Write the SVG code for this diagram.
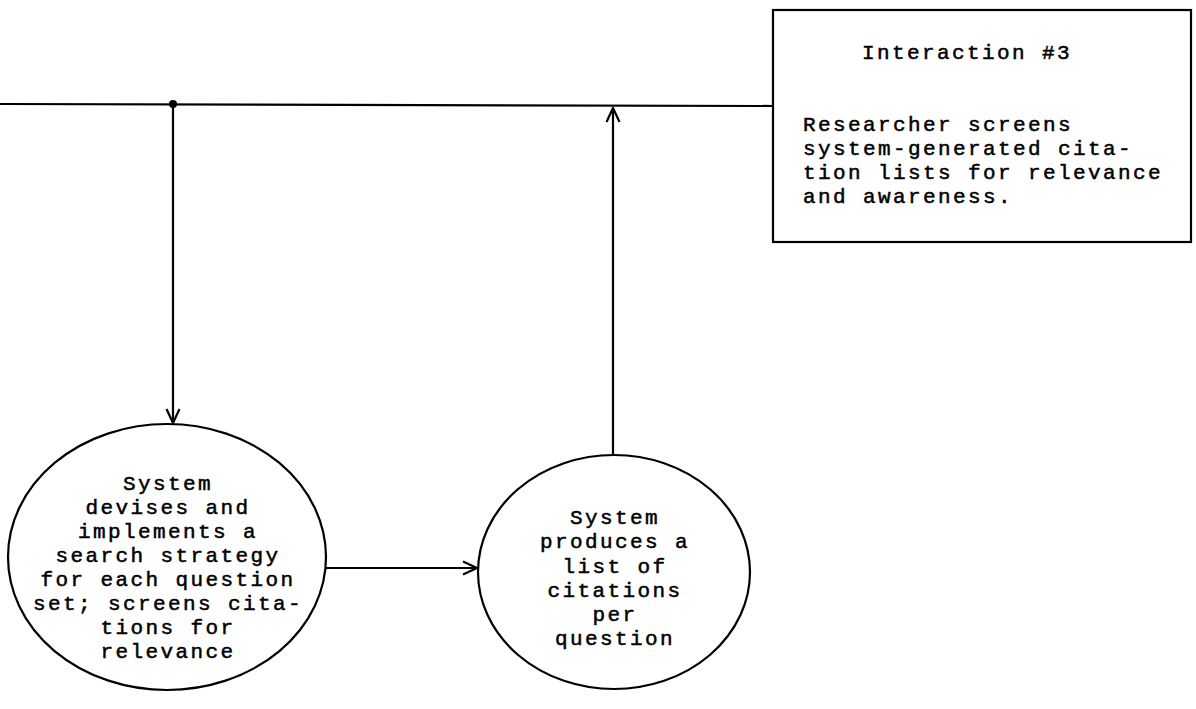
<svg xmlns="http://www.w3.org/2000/svg" width="1196" height="709" viewBox="0 0 1196 709">
  <style>
    .ln { stroke: #000; stroke-width: 2.2; fill: none; }
    .shape { stroke: #000; stroke-width: 2.2; fill: #fff; }
    .t { font-family: "Liberation Mono", "Courier New", monospace; font-size: 21px; letter-spacing: 2.4px; fill: #000; stroke: #000; stroke-width: 0.5px; }
    .c { text-anchor: middle; }
  </style>
  <defs>
    <marker id="arr" viewBox="0 0 16 16" refX="15" refY="8" markerWidth="16" markerHeight="16" markerUnits="userSpaceOnUse" orient="auto">
      <path d="M1,1.5 L15,8 L1,14.5" stroke="#000" stroke-width="2.2" fill="none"/>
    </marker>
  </defs>

  <!-- connectors -->
  <g id="connectors">
    <path class="ln" d="M0,104 L773,106"/>
    <circle cx="173" cy="104" r="4" fill="#000"/>
    <path class="ln" d="M173,104 L173,423" marker-end="url(#arr)"/>
    <path class="ln" d="M613,455 L613,108" marker-end="url(#arr)"/>
    <path class="ln" d="M326,568 L477,568" marker-end="url(#arr)"/>
  </g>

  <!-- Interaction #3 box -->
  <g id="interaction3">
    <rect class="shape" x="773" y="10" width="418" height="232"/>
    <text class="t c" x="967" y="59">Interaction #3</text>
    <text class="t" x="803" y="131">Researcher screens</text>
    <text class="t" x="803" y="155">system-generated cita-</text>
    <text class="t" x="803" y="179">tion lists for relevance</text>
    <text class="t" x="803" y="203">and awareness.</text>
  </g>

  <!-- search strategy node -->
  <g id="search">
    <ellipse class="shape" cx="167" cy="557" rx="159" ry="133"/>
    <text class="t c" x="168" y="490">System</text>
    <text class="t c" x="168" y="514">devises and</text>
    <text class="t c" x="168" y="538">implements a</text>
    <text class="t c" x="168" y="562">search strategy</text>
    <text class="t c" x="168" y="586">for each question</text>
    <text class="t c" x="168" y="610">set; screens cita-</text>
    <text class="t c" x="168" y="634">tions for</text>
    <text class="t c" x="168" y="658">relevance</text>
  </g>

  <!-- citation list node -->
  <g id="citations">
    <ellipse class="shape" cx="614" cy="572" rx="136" ry="117"/>
    <text class="t c" x="615" y="524">System</text>
    <text class="t c" x="615" y="548">produces a</text>
    <text class="t c" x="615" y="573">list of</text>
    <text class="t c" x="615" y="597">citations</text>
    <text class="t c" x="615" y="621">per</text>
    <text class="t c" x="615" y="645">question</text>
  </g>
</svg>
